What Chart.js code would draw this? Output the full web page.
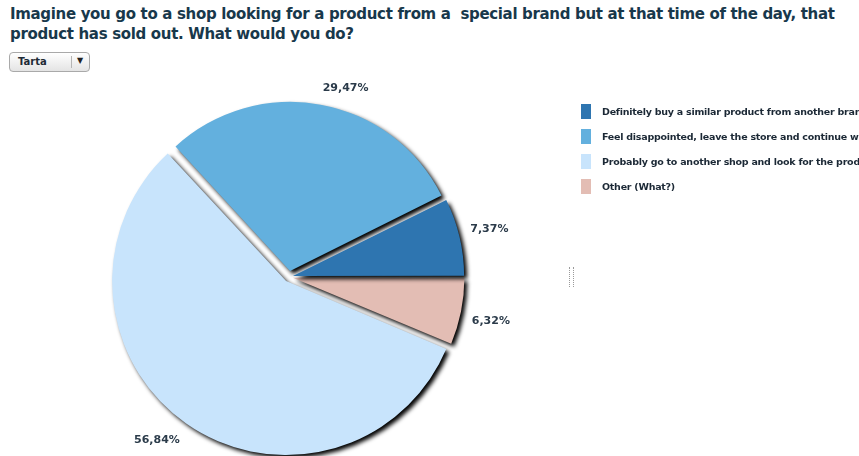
<!DOCTYPE html>
<html>
<head>
<meta charset="utf-8">
<script src="https://cdn.jsdelivr.net/npm/chart.js@4/dist/chart.umd.min.js"></script>
<style>
  html, body { margin: 0; padding: 0; background: #fff; overflow: hidden; }
  body { width: 859px; height: 456px; position: relative; font-family: "DejaVu Sans", Verdana, sans-serif; }
  #chartBox { position: absolute; left: 0; top: 0; width: 859px; height: 456px; }
  #title { position: absolute; left: 10px; top: 4px; font-weight: bold; font-size: 15px; line-height: 20px;
           letter-spacing: -0.33px; color: #18384b; white-space: pre; }
  #picker { position: absolute; left: 9px; top: 52px; width: 81px; height: 20px; border: 1px solid #a9a9a9;
            border-radius: 4px; background: linear-gradient(#ffffff, #e4e4e4); box-sizing: border-box; }
  #picker span.lbl { position: absolute; left: 8px; top: 3px; font-size: 10px; font-weight: bold; color: #1e2a36; }
  #picker span.sep { position: absolute; left: 61px; top: 3px; width: 1px; height: 12px; background: #b5b5b5; }
  #picker span.arr { position: absolute; left: 67px; top: 3px; font-size: 8px; color: #222; }
  #legend { position: absolute; left: 581px; top: 104px; right: 0; overflow: hidden; }
  .item { position: relative; height: 25px; white-space: nowrap; }
  .item .box { position: absolute; left: 0; top: 0; width: 10px; height: 15px; }
  .item .txt { position: absolute; left: 21px; top: 1px; font-size: 9.5px; font-weight: bold; color: #1b2835;
               line-height: 14px; letter-spacing: -0.25px; }
  #grip { position: absolute; left: 569px; top: 267px; width: 3px; height: 20px;
          border-left: 1px dotted #9a9a9a; border-right: 1px dotted #9a9a9a; }
</style>
</head>
<body>
<div id="title"></div>
<div id="picker"><span class="lbl">Tarta</span><span class="sep"></span><span class="arr">&#9660;</span></div>
<div id="chartBox"><canvas id="c"></canvas></div>
<div id="legend"></div>
<div id="grip"></div>
<script>
// Survey question and answers
const titleLines = [
  "Imagine you go to a shop looking for a product from a  special brand but at that time of the day, that",
  "product has sold out. What would you do?"
];
const answers = [
  "Definitely buy a similar product from another brand",
  "Feel disappointed, leave the store and continue with my day",
  "Probably go to another shop and look for the product",
  "Other (What?)"
];
const shares = [7.37, 29.47, 56.84, 6.32];
const sliceColors = ["#2e75b0", "#63b0de", "#c8e4fc", "#e3bdb4"];
const explode = [16, 24, 20, 16];

document.getElementById('title').textContent = titleLines.join("\n");

// legend in answer order
const legend = document.getElementById('legend');
answers.forEach((a, i) => {
  const row = document.createElement('div');
  row.className = 'item';
  row.innerHTML = '<span class="box"></span><span class="txt"></span>';
  row.querySelector('.box').style.background = sliceColors[i];
  row.querySelector('.txt').textContent = a;
  legend.appendChild(row);
});

// slices run counter-clockwise from 3 o'clock, so feed them to the pie reversed
const order = answers.map((_, i) => i).reverse();
const fmt = v => v.toFixed(2).replace('.', ',') + '%';

const shadowPlugin = {
  id: 'sliceShadow',
  beforeDatasetDraw(chart) {
    const ctx = chart.ctx;
    ctx.save();
    ctx.shadowColor = 'rgba(0,0,0,1)';
    ctx.shadowBlur = 4;
    ctx.shadowOffsetX = 3;
    ctx.shadowOffsetY = 3;
  },
  afterDatasetDraw(chart) {
    chart.ctx.restore();
  }
};

const labelPlugin = {
  id: 'sliceLabels',
  afterDatasetsDraw(chart) {
    const ctx = chart.ctx;
    const meta = chart.getDatasetMeta(0);
    const ds = chart.data.datasets[0];
    ctx.save();
    ctx.font = 'bold 11px "DejaVu Sans", Verdana, sans-serif';
    ctx.fillStyle = '#2b3b4a';
    meta.data.forEach((arc, i) => {
      const p = arc.getProps(['x', 'y', 'startAngle', 'endAngle', 'outerRadius', 'circumference']);
      const mid = (p.startAngle + p.endAngle) / 2;
      const t = (arc.options.offset || 0) / 4;
      const fix = 1 - Math.sin(Math.min(Math.PI, p.circumference));
      const cx = p.x + Math.cos(mid) * t;
      const cy = p.y + Math.sin(mid) * t;
      const r = p.outerRadius + t * fix + 11;
      const ax = cx + Math.cos(mid) * r;
      const ay = cy + Math.sin(mid) * r;
      ctx.textAlign = Math.cos(mid) >= 0 ? 'left' : 'right';
      ctx.textBaseline = 'alphabetic';
      const y = Math.sin(mid) < 0 ? ay - 2.5 : ay + 10;
      ctx.fillText(fmt(ds.data[i]), ax, y);
    });
    ctx.restore();
  }
};

new Chart(document.getElementById('c'), {
  type: 'pie',
  data: {
    labels: order.map(i => answers[i]),
    datasets: [{
      data: order.map(i => shares[i]),
      backgroundColor: order.map(i => sliceColors[i]),
      offset: order.map(i => explode[i]),
      borderWidth: 0
    }]
  },
  options: {
    responsive: true,
    maintainAspectRatio: false,
    animation: false,
    events: [],
    rotation: 90,
    radius: 169,
    layout: { padding: { left: 0, right: 281, top: 98, bottom: 0 } },
    plugins: { legend: { display: false }, title: { display: false }, tooltip: { enabled: false } }
  },
  plugins: [shadowPlugin, labelPlugin]
});
</script>
</body>
</html>
